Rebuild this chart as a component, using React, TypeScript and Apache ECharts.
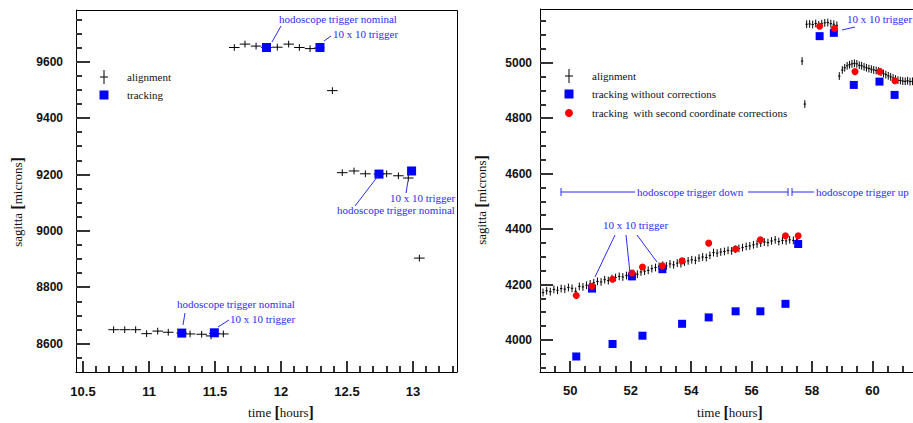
import React, { useEffect, useRef } from "react";
import * as echarts from "echarts";

// ---- Left panel: run between 10.5 and 13.3 hours ----
const leftAlignTime = [
  10.732, 10.816, 10.899, 10.982, 11.066, 11.146, 11.248, 11.311, 11.399, 11.47, 11.495, 11.563,
  11.646, 11.727, 11.811, 11.89, 11.972, 12.058, 12.139, 12.22, 12.29,
  12.389,
  12.464, 12.553, 12.639, 12.742, 12.8, 12.889, 12.964,
  13.048,
];
const leftAlignSagitta = [
  8650, 8650, 8650, 8636, 8645, 8641, 8638, 8635, 8634, 8628, 8637, 8635,
  9651, 9663, 9656, 9651, 9652, 9663, 9651, 9647, 9649,
  9498,
  9207, 9213, 9203, 9202, 9203, 9196, 9188,
  8904,
];
const leftTrackTime = [11.248, 11.495, 11.89, 12.295, 12.742, 12.989];
const leftTrackSagitta = [8638, 8639, 9651, 9651, 9202, 9213];
const LEFT_TIME_ERR = 0.04;
const LEFT_SAGITTA_ERR = 12;

// ---- Right panel: long run between 49 and 62 hours ----
const rightAlignTime = [
  49.1, 49.22, 49.34, 49.46, 49.58, 49.7, 49.82, 49.94, 50.06, 50.18, 50.3, 50.42, 50.54, 50.66,
  50.78, 50.9, 51.02, 51.14, 51.26, 51.38, 51.5, 51.62, 51.74, 51.86, 51.98, 52.1, 52.22, 52.34,
  52.46, 52.58, 52.7, 52.82, 52.94, 53.06, 53.18, 53.3, 53.42, 53.54, 53.66, 53.78, 53.9, 54.02,
  54.14, 54.26, 54.38, 54.5, 54.62, 54.74, 54.86, 54.98, 55.1, 55.22, 55.34, 55.46, 55.58, 55.7,
  55.82, 55.94, 56.06, 56.18, 56.3, 56.42, 56.54, 56.66, 56.78, 56.9, 57.02, 57.14, 57.26, 57.38,
  57.5,
  57.67, 57.76,
  57.82, 57.92, 58.02, 58.12, 58.22, 58.32, 58.42, 58.52, 58.62, 58.72, 58.82,
  58.9, 59.0, 59.08, 59.16, 59.24, 59.32, 59.4, 59.48, 59.56, 59.64, 59.72, 59.8, 59.88, 59.96,
  60.04, 60.12, 60.2, 60.28, 60.36, 60.44, 60.52, 60.6, 60.68, 60.76, 60.84, 60.92, 61.0, 61.08,
  61.16, 61.24, 61.32,
];
const rightAlignSagitta = [
  4172, 4178, 4175, 4183, 4180, 4186, 4184, 4190, 4187, 4176, 4194, 4192, 4198, 4203,
  4207, 4212, 4210, 4218, 4215, 4222, 4226, 4230, 4228, 4233, 4236, 4240, 4238, 4246,
  4249, 4252, 4258, 4262, 4266, 4270, 4268, 4275, 4272, 4278, 4276, 4282, 4286, 4290,
  4288, 4296, 4300, 4298, 4306, 4316, 4314, 4318, 4320, 4324, 4322, 4328, 4331, 4334,
  4338, 4340, 4344, 4347, 4350, 4354, 4352, 4358, 4362, 4356, 4360, 4358, 4362, 4360,
  4364,
  5007, 4852,
  5140, 5141, 5139, 5143, 5138, 5142, 5145, 5146, 5142, 5140, 5136,
  4953, 4975, 4983, 4990, 4994, 4997, 4999, 4997, 4992, 4990, 4986, 4983, 4980, 4978,
  4975, 4973, 4971, 4967, 4962, 4958, 4954, 4950, 4946, 4942, 4938, 4937, 4935, 4934,
  4936, 4933, 4934,
];
const rightTrackTime = [
  50.2, 50.72, 51.4, 52.04, 52.39, 53.05, 53.7, 54.58, 55.47, 56.29, 57.12, 57.54,
  58.25, 58.72, 59.38, 60.23, 60.73,
];
const rightTrackSagitta = [
  3941, 4186, 3986, 4230, 4016, 4256, 4059, 4082, 4104, 4104, 4131, 4347,
  5097, 5109, 4921, 4933, 4885,
];
const rightCorrTime = [
  50.2, 50.72, 51.4, 52.04, 52.39, 53.05, 53.7, 54.58, 55.47, 56.29, 57.12, 57.54,
  58.25, 58.74, 59.42, 60.24, 60.74,
];
const rightCorrSagitta = [
  4161, 4194, 4220, 4242, 4264, 4268, 4286, 4350, 4329, 4362, 4377, 4377,
  5133, 5125, 4969, 4969, 4936,
];
const RIGHT_TIME_ERR = 0.04;
const RIGHT_SAGITTA_ERR = 14;

// ---- Axis ranges and labelled ticks ----
const LEFT_TIME_RANGE = [10.447, 13.333];
const LEFT_SAGITTA_RANGE = [8500, 9784];
const RIGHT_TIME_RANGE = [49, 62];
const RIGHT_SAGITTA_RANGE = [3885, 5195];

const leftTimeLabels = [10.5, 11, 11.5, 12, 12.5, 13];
const leftSagittaLabels = [8600, 8800, 9000, 9200, 9400, 9600];
const rightTimeLabels = [50, 52, 54, 56, 58, 60];
const rightSagittaLabels = [4000, 4200, 4400, 4600, 4800, 5000];

const LEFT_TIME_MINOR_STEP = 0.1;
const RIGHT_TIME_MINOR_STEP = 0.5;
const SAGITTA_MINOR_STEP = 50;

const BLUE = "#2b2bff";
const SERIF = '"Liberation Serif", "DejaVu Serif", serif';
const SANS = '"Liberation Sans", Arial, sans-serif';

const zip = (a: number[], b: number[]) => a.map((v, i) => [v, b[i]]);

// minor tick positions inside a range, skipping the labelled ones
const minorTicks = (range: number[], step: number, majors: number[]) => {
  const out: number[] = [];
  const first = Math.ceil(range[0] / step - 1e-9);
  const last = Math.floor(range[1] / step + 1e-9);
  for (let k = first; k <= last; k++) {
    const v = Math.round(k * step * 1000) / 1000;
    if (v <= range[0] || v >= range[1]) continue;
    if (majors.some((m) => Math.abs(m - v) < 1e-6)) continue;
    out.push(v);
  }
  return out;
};

// Cross marker: horizontal (time) and vertical (sagitta) error bars
const crossRenderer = (tErr: number, sErr: number) => (params: any, api: any) => {
  const t = api.value(0);
  const s = api.value(1);
  const c = api.coord([t, s]);
  const l = api.coord([t - tErr, s]);
  const r = api.coord([t + tErr, s]);
  const top = api.coord([t, s + sErr]);
  const bot = api.coord([t, s - sErr]);
  const style = { stroke: "#000", lineWidth: 1 };
  return {
    type: "group",
    children: [
      { type: "line", shape: { x1: l[0], y1: c[1], x2: r[0], y2: c[1] }, style },
      { type: "line", shape: { x1: c[0], y1: top[1], x2: c[0], y2: bot[1] }, style },
    ],
  };
};

// Value axis; only the listed values get a label
const scaleAxis = (grid: number, range: number[], labels: number[], splitNumber: number, fontSize: number, margin: number) => ({
  type: "value",
  gridIndex: grid,
  min: range[0],
  max: range[1],
  splitNumber,
  axisLine: { show: true, onZero: false, lineStyle: { color: "#000", width: 1 } },
  axisTick: { show: false },
  minorTick: { show: false },
  splitLine: { show: false },
  minorSplitLine: { show: false },
  axisLabel: {
    show: true,
    color: "#111",
    fontFamily: SANS,
    fontWeight: "bold",
    fontSize,
    margin,
    formatter: (v: number) => (labels.some((l) => Math.abs(l - v) < 1e-6) ? String(v) : ""),
  },
});

const blueText = (x: number, y: number, text: string) => ({
  type: "text",
  x,
  y,
  z: 20,
  style: {
    text,
    fill: BLUE,
    font: `11px ${SERIF}`,
    textAlign: "left",
    textVerticalAlign: "middle",
  },
});

const blueLine = (x1: number, y1: number, x2: number, y2: number) => ({
  type: "line",
  z: 20,
  shape: { x1, y1, x2, y2 },
  style: { stroke: BLUE, lineWidth: 1 },
});

const legendText = (x: number, y: number, text: string) => ({
  type: "text",
  x,
  y,
  z: 20,
  style: { text, fill: "#111", font: `11px ${SERIF}`, textAlign: "left", textVerticalAlign: "middle" },
});

const legendCross = (x: number, y: number) => ({
  type: "group",
  z: 20,
  children: [
    { type: "line", shape: { x1: x - 4, y1: y, x2: x + 4, y2: y }, style: { stroke: "#000", lineWidth: 1 } },
    { type: "line", shape: { x1: x, y1: y - 7, x2: x, y2: y + 7 }, style: { stroke: "#000", lineWidth: 1 } },
  ],
});

const legendSquare = (x: number, y: number) => ({
  type: "rect",
  z: 20,
  shape: { x: x - 4.5, y: y - 4.5, width: 9, height: 9 },
  style: { fill: "#0000ff" },
});

// Open frame edges (top and right) of a panel
const frameEdges = (left: number, top: number, right: number, bottom: number) => ({
  type: "polyline",
  z: 1,
  silent: true,
  shape: {
    points: [
      [left + 0.5, top + 0.5],
      [right + 0.5, top + 0.5],
      [right + 0.5, bottom + 0.5],
    ],
  },
  style: { stroke: "#000", lineWidth: 1, fill: null },
});

const axisTitle = (x: number, y: number, words: string, unit: string, rotation = 0) => ({
  type: "text",
  x,
  y,
  rotation,
  z: 20,
  style: {
    text: `{w|${words} }{b|[}{w|${unit}}{b|]}`,
    fill: "#111",
    textAlign: "center",
    textVerticalAlign: "middle",
    rich: {
      w: { font: `13px ${SERIF}`, fill: "#111" },
      b: { font: `bold 16px ${SERIF}`, fill: "#111" },
    },
  },
});

const staticGraphic = [
  frameEdges(76, 10, 457, 372),
  frameEdges(540, 9, 933, 372),

  // axis titles
  axisTitle(281, 412, "time", "hours"),
  axisTitle(730, 412, "time", "hours"),
  axisTitle(17, 202, "sagitta", "microns", Math.PI / 2),
  axisTitle(481, 200, "sagitta", "microns", Math.PI / 2),

  // left legend
  legendCross(104, 77),
  legendText(127, 77, "alignment"),
  legendSquare(104, 95),
  legendText(127, 95, "tracking"),

  // right legend
  legendCross(569, 76),
  legendText(592, 76, "alignment"),
  legendSquare(569, 94),
  legendText(592, 94, "tracking without corrections"),
  { type: "circle", z: 20, shape: { cx: 569, cy: 113, r: 4 }, style: { fill: "#ff0000" } },
  legendText(592, 113, "tracking  with second coordinate corrections"),

  // left annotations
  blueText(279, 19, "hodoscope trigger nominal"),
  blueLine(281, 26, 272, 42),
  blueText(333, 34, "10 x 10 trigger"),
  blueLine(331, 36, 324, 41),
  blueText(390, 198, "10 x 10 trigger"),
  blueLine(408, 181, 406, 193),
  blueText(337, 210, "hodoscope trigger nominal"),
  blueLine(378, 176, 355, 206),
  blueText(177, 304, "hodoscope trigger nominal"),
  blueLine(185, 313, 183, 325),
  blueText(230, 319, "10 x 10 trigger"),
  blueLine(229, 320, 218, 327),

  // right annotations
  blueText(847, 19, "10 x 10 trigger"),
  blueLine(842, 30, 855, 27),
  blueText(603, 225, "10 x 10 trigger"),
  blueLine(615, 235, 595, 277),
  blueLine(626, 235, 630, 273),
  blueLine(637, 235, 657, 262),

  // trigger period brackets
  blueLine(561, 192, 635, 192),
  blueLine(748, 192, 788, 192),
  blueLine(561, 188, 561, 196),
  blueLine(788, 188, 788, 196),
  blueLine(792, 188, 792, 196),
  blueLine(792, 192, 814, 192),
  blueText(637, 192, "hodoscope trigger down"),
  blueText(816, 192, "hodoscope trigger up"),
];

export default function App() {
  const ref = useRef<HTMLDivElement>(null);

  useEffect(() => {
    if (!ref.current) return;
    const chart = echarts.init(ref.current, undefined, { renderer: "svg" });

    chart.setOption({
      animation: false,
      grid: [
        { left: 76, top: 10, width: 381, height: 362 },
        { left: 540, top: 9, width: 393, height: 363 },
      ],
      xAxis: [
        scaleAxis(0, LEFT_TIME_RANGE, leftTimeLabels, 5, 13, 13),
        scaleAxis(1, RIGHT_TIME_RANGE, rightTimeLabels, 6, 13, 12),
      ],
      yAxis: [
        scaleAxis(0, LEFT_SAGITTA_RANGE, leftSagittaLabels, 6, 12, 13),
        scaleAxis(1, RIGHT_SAGITTA_RANGE, rightSagittaLabels, 6, 12, 8),
      ],
      series: [
        {
          name: "alignment",
          type: "custom",
          xAxisIndex: 0,
          yAxisIndex: 0,
          z: 2,
          renderItem: crossRenderer(LEFT_TIME_ERR, LEFT_SAGITTA_ERR),
          encode: { x: 0, y: 1 },
          data: zip(leftAlignTime, leftAlignSagitta),
        },
        {
          name: "tracking",
          type: "scatter",
          xAxisIndex: 0,
          yAxisIndex: 0,
          z: 3,
          symbol: "rect",
          symbolSize: 9,
          itemStyle: { color: "#0000ff", opacity: 1 },
          data: zip(leftTrackTime, leftTrackSagitta),
        },
        {
          name: "alignment",
          type: "custom",
          xAxisIndex: 1,
          yAxisIndex: 1,
          z: 2,
          renderItem: crossRenderer(RIGHT_TIME_ERR, RIGHT_SAGITTA_ERR),
          encode: { x: 0, y: 1 },
          data: zip(rightAlignTime, rightAlignSagitta),
        },
        {
          name: "tracking without corrections",
          type: "scatter",
          xAxisIndex: 1,
          yAxisIndex: 1,
          z: 3,
          symbol: "rect",
          symbolSize: 8,
          itemStyle: { color: "#0000ff", opacity: 1 },
          data: zip(rightTrackTime, rightTrackSagitta),
        },
        {
          name: "tracking  with second coordinate corrections",
          type: "scatter",
          xAxisIndex: 1,
          yAxisIndex: 1,
          z: 4,
          symbol: "circle",
          symbolSize: 7,
          itemStyle: { color: "#ff0000", opacity: 1 },
          data: zip(rightCorrTime, rightCorrSagitta),
        },
      ],
    });

    // Inward tick marks, placed through each panel's own scales
    const ticks: any[] = [];
    const tickStyle = { stroke: "#333", lineWidth: 2 };
    const timeTicks = (grid: number, values: number[], sagittaMin: number, len: number) =>
      values.forEach((v) => {
        const p = chart.convertToPixel({ gridIndex: grid }, [v, sagittaMin]) as number[];
        if (!p) return;
        const x = Math.round(p[0]);
        ticks.push({ type: "line", z: 6, silent: true, shape: { x1: x, y1: p[1], x2: x, y2: p[1] - len }, style: tickStyle });
      });
    const sagittaTicks = (grid: number, values: number[], timeMin: number, len: number) =>
      values.forEach((v) => {
        const p = chart.convertToPixel({ gridIndex: grid }, [timeMin, v]) as number[];
        if (!p) return;
        const y = Math.round(p[1]);
        ticks.push({ type: "line", z: 6, silent: true, shape: { x1: p[0], y1: y, x2: p[0] + len, y2: y }, style: tickStyle });
      });

    timeTicks(0, leftTimeLabels, LEFT_SAGITTA_RANGE[0], 11);
    timeTicks(0, minorTicks(LEFT_TIME_RANGE, LEFT_TIME_MINOR_STEP, leftTimeLabels), LEFT_SAGITTA_RANGE[0], 6);
    sagittaTicks(0, leftSagittaLabels, LEFT_TIME_RANGE[0], 14);
    sagittaTicks(0, minorTicks(LEFT_SAGITTA_RANGE, SAGITTA_MINOR_STEP, leftSagittaLabels), LEFT_TIME_RANGE[0], 6);
    timeTicks(1, rightTimeLabels, RIGHT_SAGITTA_RANGE[0], 11);
    timeTicks(1, minorTicks(RIGHT_TIME_RANGE, RIGHT_TIME_MINOR_STEP, rightTimeLabels), RIGHT_SAGITTA_RANGE[0], 6);
    sagittaTicks(1, rightSagittaLabels, RIGHT_TIME_RANGE[0], 13);
    sagittaTicks(1, minorTicks(RIGHT_SAGITTA_RANGE, SAGITTA_MINOR_STEP, rightSagittaLabels), RIGHT_TIME_RANGE[0], 6);

    chart.setOption({ graphic: [...staticGraphic, ...ticks] });

    return () => chart.dispose();
  }, []);

  return (
    <div
      style={{
        position: "fixed",
        left: 0,
        top: 0,
        width: 913,
        height: 423,
        overflow: "hidden",
        background: "#fff",
      }}
    >
      <div ref={ref} style={{ width: 960, height: 423 }} />
    </div>
  );
}
